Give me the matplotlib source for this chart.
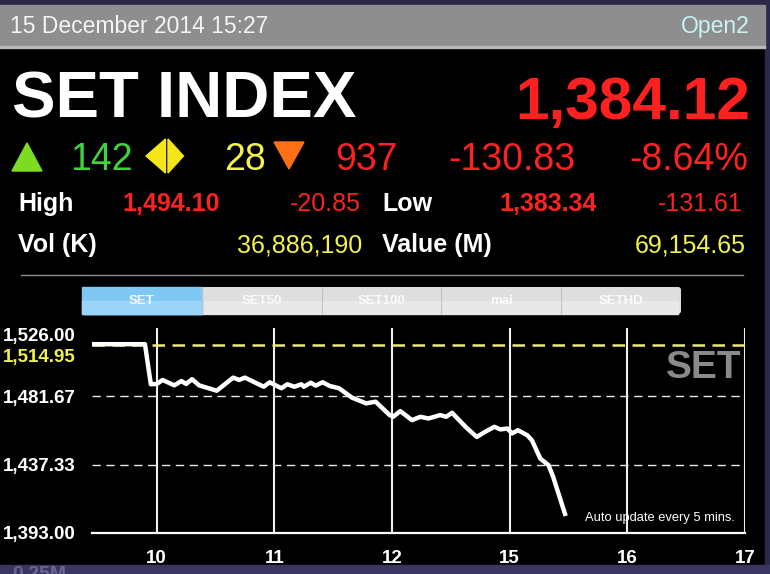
import numpy as np
import matplotlib
matplotlib.use('Agg')
import matplotlib.pyplot as plt
from matplotlib.patches import Rectangle, Polygon, FancyBboxPatch

plt.rcParams['font.family'] = ['Liberation Sans', 'DejaVu Sans']

# data
hour_labels = ['10', '11', '12', '15', '16', '17']
hour_pos = [0, 1, 2, 3, 4, 5]
t_pos = [-0.55, -0.10, -0.05, 0.00, 0.05, 0.15, 0.21, 0.25, 0.30, 0.36,
         0.51, 0.65, 0.70, 0.75, 0.85, 0.91, 0.96, 1.06, 1.11, 1.17,
         1.23, 1.25, 1.31, 1.35, 1.41, 1.47, 1.55, 1.66, 1.78, 1.86,
         1.98, 2.01, 2.07, 2.17, 2.24, 2.31, 2.41, 2.46, 2.51, 2.63,
         2.72, 2.79, 2.87, 2.92, 2.98, 3.02, 3.07, 3.15, 3.19, 3.26,
         3.33, 3.37, 3.47]
set_idx = [1515.5, 1515.5, 1489.5, 1489.7, 1492.3, 1488.8, 1491.6, 1489.7, 1492.8, 1488.8,
           1485.3, 1493.8, 1492.3, 1493.8, 1490.1, 1487.9, 1490.8, 1486.9, 1489.5, 1487.9,
           1489.5, 1487.9, 1490.5, 1488.6, 1490.8, 1488.4, 1486.9, 1480.8, 1477.1, 1478.2,
           1469.5, 1468.4, 1472.1, 1466.2, 1468.4, 1467.3, 1469.5, 1468.4, 1471.0, 1461.5,
           1455.3, 1458.6, 1461.9, 1460.2, 1460.8, 1457.6, 1459.7, 1456.4, 1453.0, 1441.3,
           1437.0, 1429.3, 1405.4]
y_min, y_max = 1393.00, 1526.00
y_grid = [1437.33, 1481.67]
prev_close = 1514.95

header_date = '15 December 2014 15:27'
header_status = 'Open2'
last_value = '1,384.12'
n_up, n_unch, n_down = '142', '28', '937'
change, change_pct = '-130.83', '-8.64%'
high_val, high_chg = '1,494.10', '-20.85'
low_val, low_chg = '1,383.34', '-131.61'
vol_k, value_m = '36,886,190', '69,154.65'
tabs = ['SET', 'SET50', 'SET100', 'mai', 'SETHD']

RED = '#ff2020'
YEL = '#f2f24a'

fig = plt.figure(figsize=(7.7, 5.74), dpi=100, facecolor='black')

# full-figure overlay in pixel units for the app chrome
ov = fig.add_axes([0, 0, 1, 1])
ov.set_xlim(0, 770)
ov.set_ylim(574, 0)
ov.axis('off')
ov.set_facecolor('black')

ov.add_patch(Rectangle((0, 0), 770, 5, color='#2c2848'))
ov.add_patch(Rectangle((765, 0), 5, 574, color='#2c2848'))
ov.add_patch(Rectangle((0, 565), 770, 9, color='#3a3562'))
ov.text(12, 566, '0.25M', color='#6a6590', fontsize=14, fontweight='bold', va='top', clip_on=True)
ov.add_patch(Rectangle((0, 5), 765, 42, color='#8e8e8e'))
ov.add_patch(Rectangle((0, 46), 765, 2, color='#b8b8b8'))
ov.text(10, 33, header_date, color='#f4f4f4', fontsize=16.5)
ov.text(750, 33, header_status, color='#c8f4f4', fontsize=16.5, ha='right')

ov.text(12, 118, 'SET INDEX', color='white', fontsize=47, fontweight='bold')
ov.text(750, 119, last_value, color=RED, fontsize=43.5, fontweight='bold', ha='right')

# advance / unchanged / decline row
ov.add_patch(Polygon([(12, 171), (42, 171), (27, 143)], color='#7ddc1f'))
ov.text(70, 170, n_up, color='#3ed43e', fontsize=27)
ov.add_patch(Polygon([(165.5, 139), (165.5, 173), (146, 156)], color='#f5e61a'))
ov.add_patch(Polygon([(168, 139), (168, 173), (183.5, 156)], color='#f5e61a'))
ov.text(224, 170, n_unch, color=YEL, fontsize=27)
ov.add_patch(Polygon([(274, 142), (304, 142), (289, 169)], color='#ff6f15'))
ov.text(335, 170, n_down, color=RED, fontsize=27)
ov.text(575, 170, change, color=RED, fontsize=27, ha='right')
ov.text(748, 170, change_pct, color=RED, fontsize=27, ha='right')

ov.text(18, 211, 'High', color='white', fontsize=18, fontweight='bold')
ov.text(122, 211, high_val, color=RED, fontsize=18, fontweight='bold')
ov.text(361, 211, high_chg, color=RED, fontsize=18, ha='right')
ov.text(382, 211, 'Low', color='white', fontsize=18, fontweight='bold')
ov.text(499, 211, low_val, color=RED, fontsize=18, fontweight='bold')
ov.text(743, 211, low_chg, color=RED, fontsize=18, ha='right')

ov.text(18, 252, 'Vol (K)', color='white', fontsize=18, fontweight='bold')
ov.text(362, 252, vol_k, color=YEL, fontsize=18, ha='right')
ov.text(382, 252, 'Value (M)', color='white', fontsize=18, fontweight='bold')
ov.text(746, 252, value_m, color=YEL, fontsize=18, ha='right')

ov.plot([21, 743], [275, 275], color='#8a8a8a', lw=1)

# tab bar
ov.add_patch(FancyBboxPatch((82, 287), 599, 27, boxstyle='round,pad=0,rounding_size=3',
                            facecolor='#dedede', edgecolor='none'))
ov.add_patch(Rectangle((84, 301), 594, 13, color='#e8e8e8'))
ov.add_patch(Rectangle((82, 287), 119.8, 27, color='#80c8f4'))
ov.add_patch(Rectangle((82, 301), 119.8, 13, color='#9ad4f8'))
for i, name in enumerate(tabs):
    cx = 82 + 119.8 * (i + 0.5)
    if i > 0:
        ov.plot([82 + 119.8 * i] * 2, [287, 314], color='#c4c4c4', lw=0.8)
    ov.text(cx, 301, name, color='#fafafa', fontsize=9.5, fontweight='bold', ha='center', va='center')

# chart
ax = fig.add_axes([92 / 770, (574 - 533) / 574, (745 - 92) / 770, (533 - 328) / 574])
ax.set_facecolor('none')
ax.set_xlim(-0.55, 5.0)
ax.set_ylim(y_min, y_max)
for s in ['left', 'right', 'top']:
    ax.spines[s].set_visible(False)
ax.spines['bottom'].set_color('white')
ax.spines['bottom'].set_linewidth(1.6)

ax.vlines(hour_pos, y_min, y_max, color='#f0f0f0', lw=1.5)
for g in y_grid:
    ax.axhline(g, color='#e8e8e8', lw=1, dashes=(6, 4))
ax.axhline(prev_close, color='#eaea78', lw=1.8, dashes=(5, 3))
ax.plot(t_pos, set_idx, color='white', lw=3.2, solid_joinstyle='round', zorder=5)

ax.set_xticks(hour_pos)
ax.set_xticklabels(hour_labels, fontsize=13.5, fontweight='bold', color='white')
ax.tick_params(axis='x', length=0, pad=12)
ax.set_yticks([])

ylab_kw = dict(xycoords=('figure pixels', 'data'), annotation_clip=False,
               fontsize=13.5, fontweight='bold', ha='left')
ax.annotate(f'{y_max:,.2f}', (3, y_max), color='white', va='top', **ylab_kw)
ax.annotate(f'{prev_close:,.2f}', (3, prev_close), xytext=(0, -3), textcoords='offset points',
            color=YEL, va='top', **ylab_kw)
for g in y_grid:
    ax.annotate(f'{g:,.2f}', (3, g), color='white', va='center_baseline', **ylab_kw)
ax.annotate(f'{y_min:,.2f}', (3, y_min), color='white', va='center_baseline', **ylab_kw)

ax.text(0.995, 0.805, 'SET', transform=ax.transAxes, color='#8a8a8a', fontsize=28,
        fontweight='bold', ha='right', va='center')
ax.text(0.985, 0.075, 'Auto update every 5 mins.', transform=ax.transAxes, color='white',
        fontsize=9.3, ha='right', va='center')

fig.savefig('out.png', dpi=100, facecolor='black')
